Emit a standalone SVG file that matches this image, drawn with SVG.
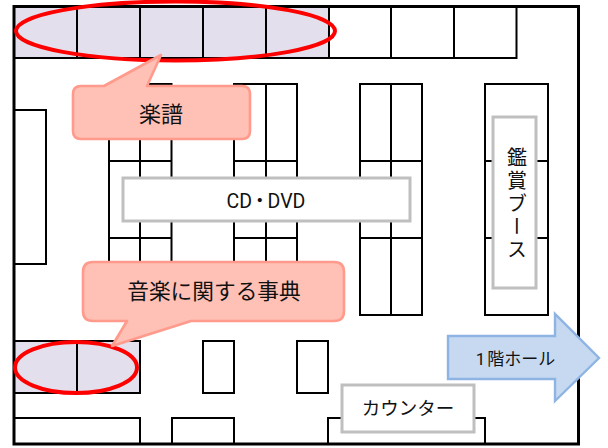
<svg xmlns="http://www.w3.org/2000/svg" width="608" height="448" viewBox="0 0 608 448">
<style>
.t{font-family:"Roboto","Noto Sans CJK JP",sans-serif;fill:#111;text-anchor:middle}
.s{fill:#fff;stroke:#000;stroke-width:2}
.p{fill:#e3dfec;stroke:#000;stroke-width:2}
.l{stroke:#000;stroke-width:2;fill:none}
.e{fill:none;stroke:#f00;stroke-width:4}
.c{fill:#ffc0b5;stroke:#ff9a8c;stroke-width:2.600;stroke-linejoin:round}
.g{fill:#fff;stroke:#bfbfbf;stroke-width:3}
</style>
<rect width="608" height="448" fill="#fff"/>
<g id="shelves-top">
<path class="p" d="M14 6.500H329V58H14Z"/>
<path class="l" d="M77 6.500V58M140 6.500V58M203 6.500V58M266 6.500V58"/>
<path class="l" d="M329 58H516.500V6.500M391 6.500V58M454 6.500V58"/>
</g>
<g id="shelves-a"><rect class="s" x="109" y="84" width="62.500" height="231"/><path class="l" d="M140 84V315M109 161H171.500M109 238H171.500"/></g>
<g id="shelves-b"><rect class="s" x="234" y="84" width="63" height="231"/><path class="l" d="M266 84V315M234 161H297M234 238H297"/></g>
<g id="shelves-c"><rect class="s" x="360" y="84" width="62" height="231"/><path class="l" d="M391 84V315M360 161H422M360 238H422"/></g>
<g id="shelves-d"><rect class="s" x="485" y="84" width="63" height="231"/><path class="l" d="M485 161H548M485 238H548"/></g>
<g id="shelf-left"><rect class="s" x="14" y="110" width="32" height="154"/></g>
<g id="shelves-bottom-left"><rect class="p" x="14" y="341" width="126" height="52"/><path class="l" d="M77 341V393"/></g>
<g id="shelf-small-1"><rect class="s" x="203" y="341" width="31" height="52"/></g>
<g id="shelf-small-2"><rect class="s" x="297" y="341" width="31" height="52"/></g>
<g id="shelves-bottom">
<path class="s" d="M14 444V418H140V444"/>
<path class="s" d="M172 444V418H234V444"/>
<path class="s" d="M328 444V418H485V444"/>
</g>
<g id="floor"><path d="M14 6.500H578.500V444H14Z" fill="none" stroke="#000" stroke-width="3"/></g>
<g id="oval-top"><ellipse class="e" cx="175.500" cy="31" rx="159.500" ry="29.500"/></g>
<g id="oval-bottom"><ellipse class="e" cx="76" cy="367.500" rx="61" ry="25.500"/></g>
<g id="callout-score">
<path class="c" d="M81 86H104L161 55L147 86H242Q250 86 250 94V131Q250 139 242 139H81Q73 139 73 131V94Q73 86 81 86Z"/>
<text class="t" x="161" y="122" font-size="22">楽譜</text>
</g>
<g id="callout-dictionary">
<path class="c" d="M93 262H334Q344 262 344 272V311Q344 321 334 321H191L112 346L127 321H93Q83 321 83 311V272Q83 262 93 262Z"/>
<text class="t" x="214" y="299" font-size="21.700">音楽に関する事典</text>
</g>
<g id="label-cd"><rect class="g" x="123" y="178" width="287" height="43"/><text class="t" x="266" y="208" font-size="19.500">CD<tspan dx="-2">・</tspan><tspan dx="-2">DVD</tspan></text></g>
<g id="label-booth"><rect class="g" x="493" y="117" width="43" height="171"/>
<text class="t" x="515.500" y="147.500" font-size="20" letter-spacing="3" style="writing-mode:vertical-rl;text-anchor:start">鑑賞ブース</text></g>
<g id="label-counter"><rect class="g" x="342" y="385" width="132" height="47"/><text class="t" x="408" y="415" font-size="18.500">カウンター</text></g>
<g id="arrow-hall"><path d="M448 336H555V314L599 358L555 401V379H448Z" fill="#c6d9f1" stroke="#8eb4e3" stroke-width="2.400"/><text class="t" x="515.500" y="364.500" font-size="17">1<tspan dx="2">階ホール</tspan></text></g>
</svg>
